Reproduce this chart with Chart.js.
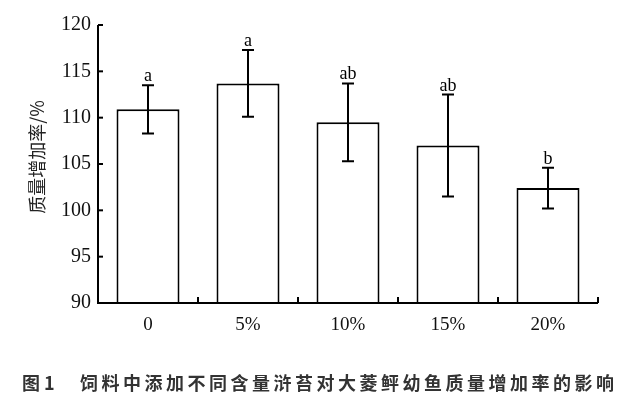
<!DOCTYPE html>
<html>
<head>
<meta charset="utf-8">
<script src="https://cdn.jsdelivr.net/npm/chart.js@4/dist/chart.umd.min.js"></script>
<style>
  html,body{margin:0;padding:0;background:#fff;}
  #wrap{position:relative;width:637px;height:396px;}
  #caption{position:absolute;left:22px;top:370px;font-family:"Noto Sans CJK SC",sans-serif;font-size:18px;font-weight:bold;color:#333;white-space:nowrap;line-height:24px;}
  #caption .lbl{display:inline-block;width:58px;}
  #caption .txt{letter-spacing:3.5px;}
</style>
</head>
<body>
<div id="wrap">
  <canvas id="chart" width="637" height="396"></canvas>
  <div id="caption"><span class="lbl">图 1</span><span class="txt">饲料中添加不同含量浒苔对大菱鲆幼鱼质量增加率的影响</span></div>
</div>
<script>
const levels = ['0', '5%', '10%', '15%', '20%'];
const gainRate = [110.9, 113.7, 109.5, 107.0, 102.4];
const errSD = [2.6, 3.6, 4.2, 5.5, 2.2];
const sigLetters = ['a', 'a', 'ab', 'ab', 'b'];
const yTicks = [90, 95, 100, 105, 110, 115, 120];
const yTitle = '质量增加率/%';

const serif = '"Liberation Serif","Times New Roman",serif';

// error bars, significance letters, axes with inward ticks
const extras = {
  id: 'extras',
  afterDatasetsDraw(chart){
    const ctx = chart.ctx;
    const ys = chart.scales.y, xs = chart.scales.x;
    const area = chart.chartArea;
    const meta = chart.getDatasetMeta(0);
    ctx.save();
    ctx.strokeStyle = '#000';
    ctx.lineWidth = 2;
    meta.data.forEach((bar, i)=>{
      const x = bar.x;
      const hi = ys.getPixelForValue(gainRate[i] + errSD[i]);
      const lo = ys.getPixelForValue(gainRate[i] - errSD[i]);
      ctx.beginPath();
      ctx.moveTo(x, hi); ctx.lineTo(x, lo);
      ctx.moveTo(x-6, hi); ctx.lineTo(x+6, hi);
      ctx.moveTo(x-6, lo); ctx.lineTo(x+6, lo);
      ctx.stroke();
      ctx.fillStyle = '#000';
      ctx.font = '18px ' + serif;
      ctx.textAlign = 'center';
      ctx.textBaseline = 'alphabetic';
      ctx.fillText(sigLetters[i], x, hi - 4);
    });
    // axes
    ctx.beginPath();
    ctx.moveTo(area.left, area.top);
    ctx.lineTo(area.left, area.bottom);
    ctx.lineTo(area.right, area.bottom);
    ctx.stroke();
    // y ticks pointing inward
    yTicks.forEach(v=>{
      const y = ys.getPixelForValue(v);
      ctx.beginPath(); ctx.moveTo(area.left, y); ctx.lineTo(area.left+5, y); ctx.stroke();
    });
    // x ticks between categories, pointing up
    for(let i=1;i<=levels.length;i++){
      const x = (xs.getPixelForValue(i-1) + xs.getPixelForValue(i)) / 2;
      ctx.beginPath(); ctx.moveTo(x, area.bottom); ctx.lineTo(x, area.bottom-6); ctx.stroke();
    }
    // y title
    ctx.translate(37, (area.top+area.bottom)/2 - 7);
    ctx.rotate(-Math.PI/2);
    ctx.font = '18px "Noto Sans CJK SC",sans-serif';
    ctx.fillStyle = '#222';
    ctx.textAlign = 'center';
    ctx.textBaseline = 'middle';
    ctx.fillText(yTitle, 0, 0);
    ctx.restore();
  }
};

new Chart(document.getElementById('chart'), {
  type: 'bar',
  data: {
    labels: levels,
    datasets: [{
      data: gainRate,
      backgroundColor: '#fff',
      borderColor: '#000',
      borderWidth: 2,
      borderSkipped: 'bottom',
      barPercentage: 0.63,
      categoryPercentage: 1
    }]
  },
  options: {
    responsive: false,
    animation: false,
    layout: { padding: { top: 25, right: 39, bottom: 50, left: 0 } },
    plugins: { legend: { display: false }, tooltip: { enabled: false } },
    scales: {
      x: {
        grid: { display: false, drawTicks: false },
        border: { display: false },
        ticks: { color: '#111', font: { family: serif, size: 19 }, padding: 11 },
        afterFit(s){ s.height = 43; }
      },
      y: {
        min: 90, max: 120,
        grid: { display: false, drawTicks: false },
        border: { display: false },
        ticks: { stepSize: 5, color: '#111', font: { family: serif, size: 20 }, padding: 7 },
        afterFit(s){ s.width = 98; }
      }
    }
  },
  plugins: [extras]
});
</script>
</body>
</html>
